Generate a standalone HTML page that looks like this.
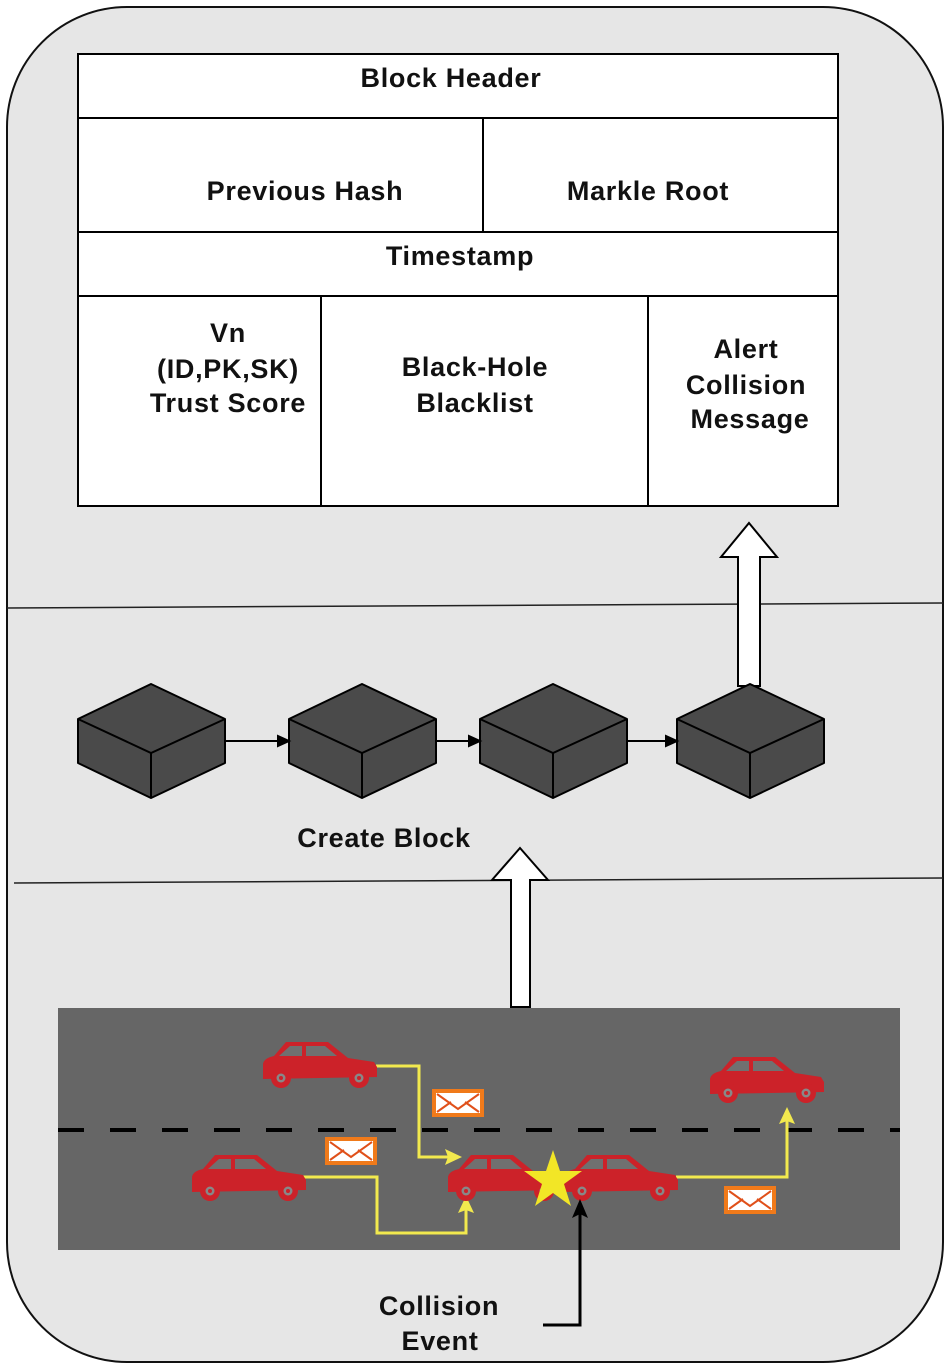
<!DOCTYPE html>
<html><head><meta charset="utf-8"><style>
html,body{margin:0;padding:0;background:#fff;}
svg{display:block}
text{font-family:"Liberation Sans",Arial,sans-serif;font-weight:bold;font-size:27px;letter-spacing:0.7px;fill:#111;text-anchor:middle}
</style></head><body>
<svg width="950" height="1370" viewBox="0 0 950 1370" xmlns="http://www.w3.org/2000/svg">
<defs>
<g id="car">
<path d="M1,24 Q2,18 12,16 L24,2 L66,2 L86,18 L112,22 L115,27 L115,37 L1,39 Z" fill="#cc2229"/>
<path d="M17,16 L28,6 L40,6 L40,16 Z" fill="#707070"/>
<path d="M44,16 L44,6 L63,6 L75,16 Z" fill="#707070"/>
<circle cx="19" cy="38" r="10" fill="#cc2229"/><circle cx="19" cy="38" r="4.5" fill="#888"/><circle cx="19" cy="38" r="2" fill="#cc2229"/>
<circle cx="97" cy="38" r="10" fill="#cc2229"/><circle cx="97" cy="38" r="4.5" fill="#888"/><circle cx="97" cy="38" r="2" fill="#cc2229"/>
</g>
<g id="cube">
<path d="M0,35 L73,0 L147,35 L147,79 L73,114 L0,79 Z" fill="#4a4a4a" stroke="#000" stroke-width="2" stroke-linejoin="round"/>
<path d="M0,35 L73,69 L147,35 M73,69 L73,114" fill="none" stroke="#000" stroke-width="2"/>
</g>
<g id="env">
<rect x="0" y="0" width="52" height="28" fill="#f07a1a"/>
<rect x="4" y="4" width="44" height="20" fill="#fff"/>
<path d="M5,5 L26,20 L47,5 M5,23 L19,13 M47,23 L33,13" fill="none" stroke="#e0501a" stroke-width="2"/>
</g>
</defs>
<rect x="7" y="7" width="936" height="1355" rx="120" ry="120" fill="#e6e6e6" stroke="#111" stroke-width="2"/>
<rect x="78" y="54" width="760" height="452" fill="#fff" stroke="#000" stroke-width="2"/>
<path d="M78,118 H838 M78,232 H838 M78,296 H838 M483,118 V232 M321,296 V506 M648,296 V506" stroke="#000" stroke-width="2" fill="none"/>
<text x="451" y="87">Block Header</text>
<text x="305" y="200">Previous Hash</text>
<text x="648" y="200">Markle Root</text>
<text x="460" y="265">Timestamp</text>
<text x="228" y="342">Vn</text>
<text x="228" y="378">(ID,PK,SK)</text>
<text x="228" y="412">Trust Score</text>
<text x="475" y="376">Black-Hole</text>
<text x="475" y="412">Blacklist</text>
<text x="746" y="358">Alert</text>
<text x="746" y="394">Collision</text>
<text x="750" y="428">Message</text>
<line x1="7" y1="608" x2="943" y2="603" stroke="#222" stroke-width="1.5"/>
<line x1="14" y1="883" x2="943" y2="878" stroke="#222" stroke-width="1.5"/>
<path d="M749,523 L777,557 L760,557 L760,686 L738,686 L738,557 L721,557 Z" fill="#fff" stroke="#000" stroke-width="2"/>
<use href="#cube" x="78" y="684"/>
<use href="#cube" x="289" y="684"/>
<use href="#cube" x="480" y="684"/>
<use href="#cube" x="677" y="684"/>
<g stroke="#000" stroke-width="2" fill="#000">
<line x1="225" y1="741" x2="280" y2="741"/><path d="M289,741 L278,736 L278,746 Z"/>
<line x1="436" y1="741" x2="471" y2="741"/><path d="M480,741 L469,736 L469,746 Z"/>
<line x1="627" y1="741" x2="668" y2="741"/><path d="M677,741 L666,736 L666,746 Z"/>
</g>
<text x="384" y="847">Create Block</text>
<path d="M520,848 L548,880 L530,880 L530,1007 L511,1007 L511,880 L492,880 Z" fill="#fff" stroke="#000" stroke-width="2"/>
<rect x="58" y="1008" width="842" height="242" fill="#666"/>
<line x1="58" y1="1130" x2="900" y2="1130" stroke="#000" stroke-width="4" stroke-dasharray="26,26"/>
<g fill="none" stroke="#f2e94e" stroke-width="3">
<path d="M376,1066 H419 V1157 H452"/>
<path d="M303,1177 H377 V1233 H466 V1206"/>
<path d="M676,1177 H787 V1118"/>
</g>
<g fill="#f2e94e">
<path d="M462,1157 L445,1149 L448,1157 L445,1165 Z"/>
<path d="M466,1196 L458,1213 L466,1210 L474,1213 Z"/>
<path d="M787,1107 L779,1124 L787,1121 L795,1124 Z"/>
</g>
<use href="#car" x="262" y="1040"/>
<use href="#car" x="191" y="1153"/>
<use href="#car" x="447" y="1153"/>
<use href="#car" x="563" y="1153"/>
<use href="#car" x="709" y="1055"/>
<use href="#env" x="432" y="1089"/>
<use href="#env" x="325" y="1137"/>
<use href="#env" x="724" y="1186"/>
<path d="M553,1150 L560,1171 L582,1171 L564,1184 L571,1206 L553,1193 L535,1206 L542,1184 L524,1171 L546,1171 Z" fill="#f2e626"/>
<path d="M543,1325 H580 V1210" fill="none" stroke="#000" stroke-width="3"/>
<path d="M580,1199 L572,1218 L580,1214 L588,1218 Z" fill="#000"/>
<text x="439" y="1315">Collision</text>
<text x="440" y="1350">Event</text>
</svg>
</body></html>
